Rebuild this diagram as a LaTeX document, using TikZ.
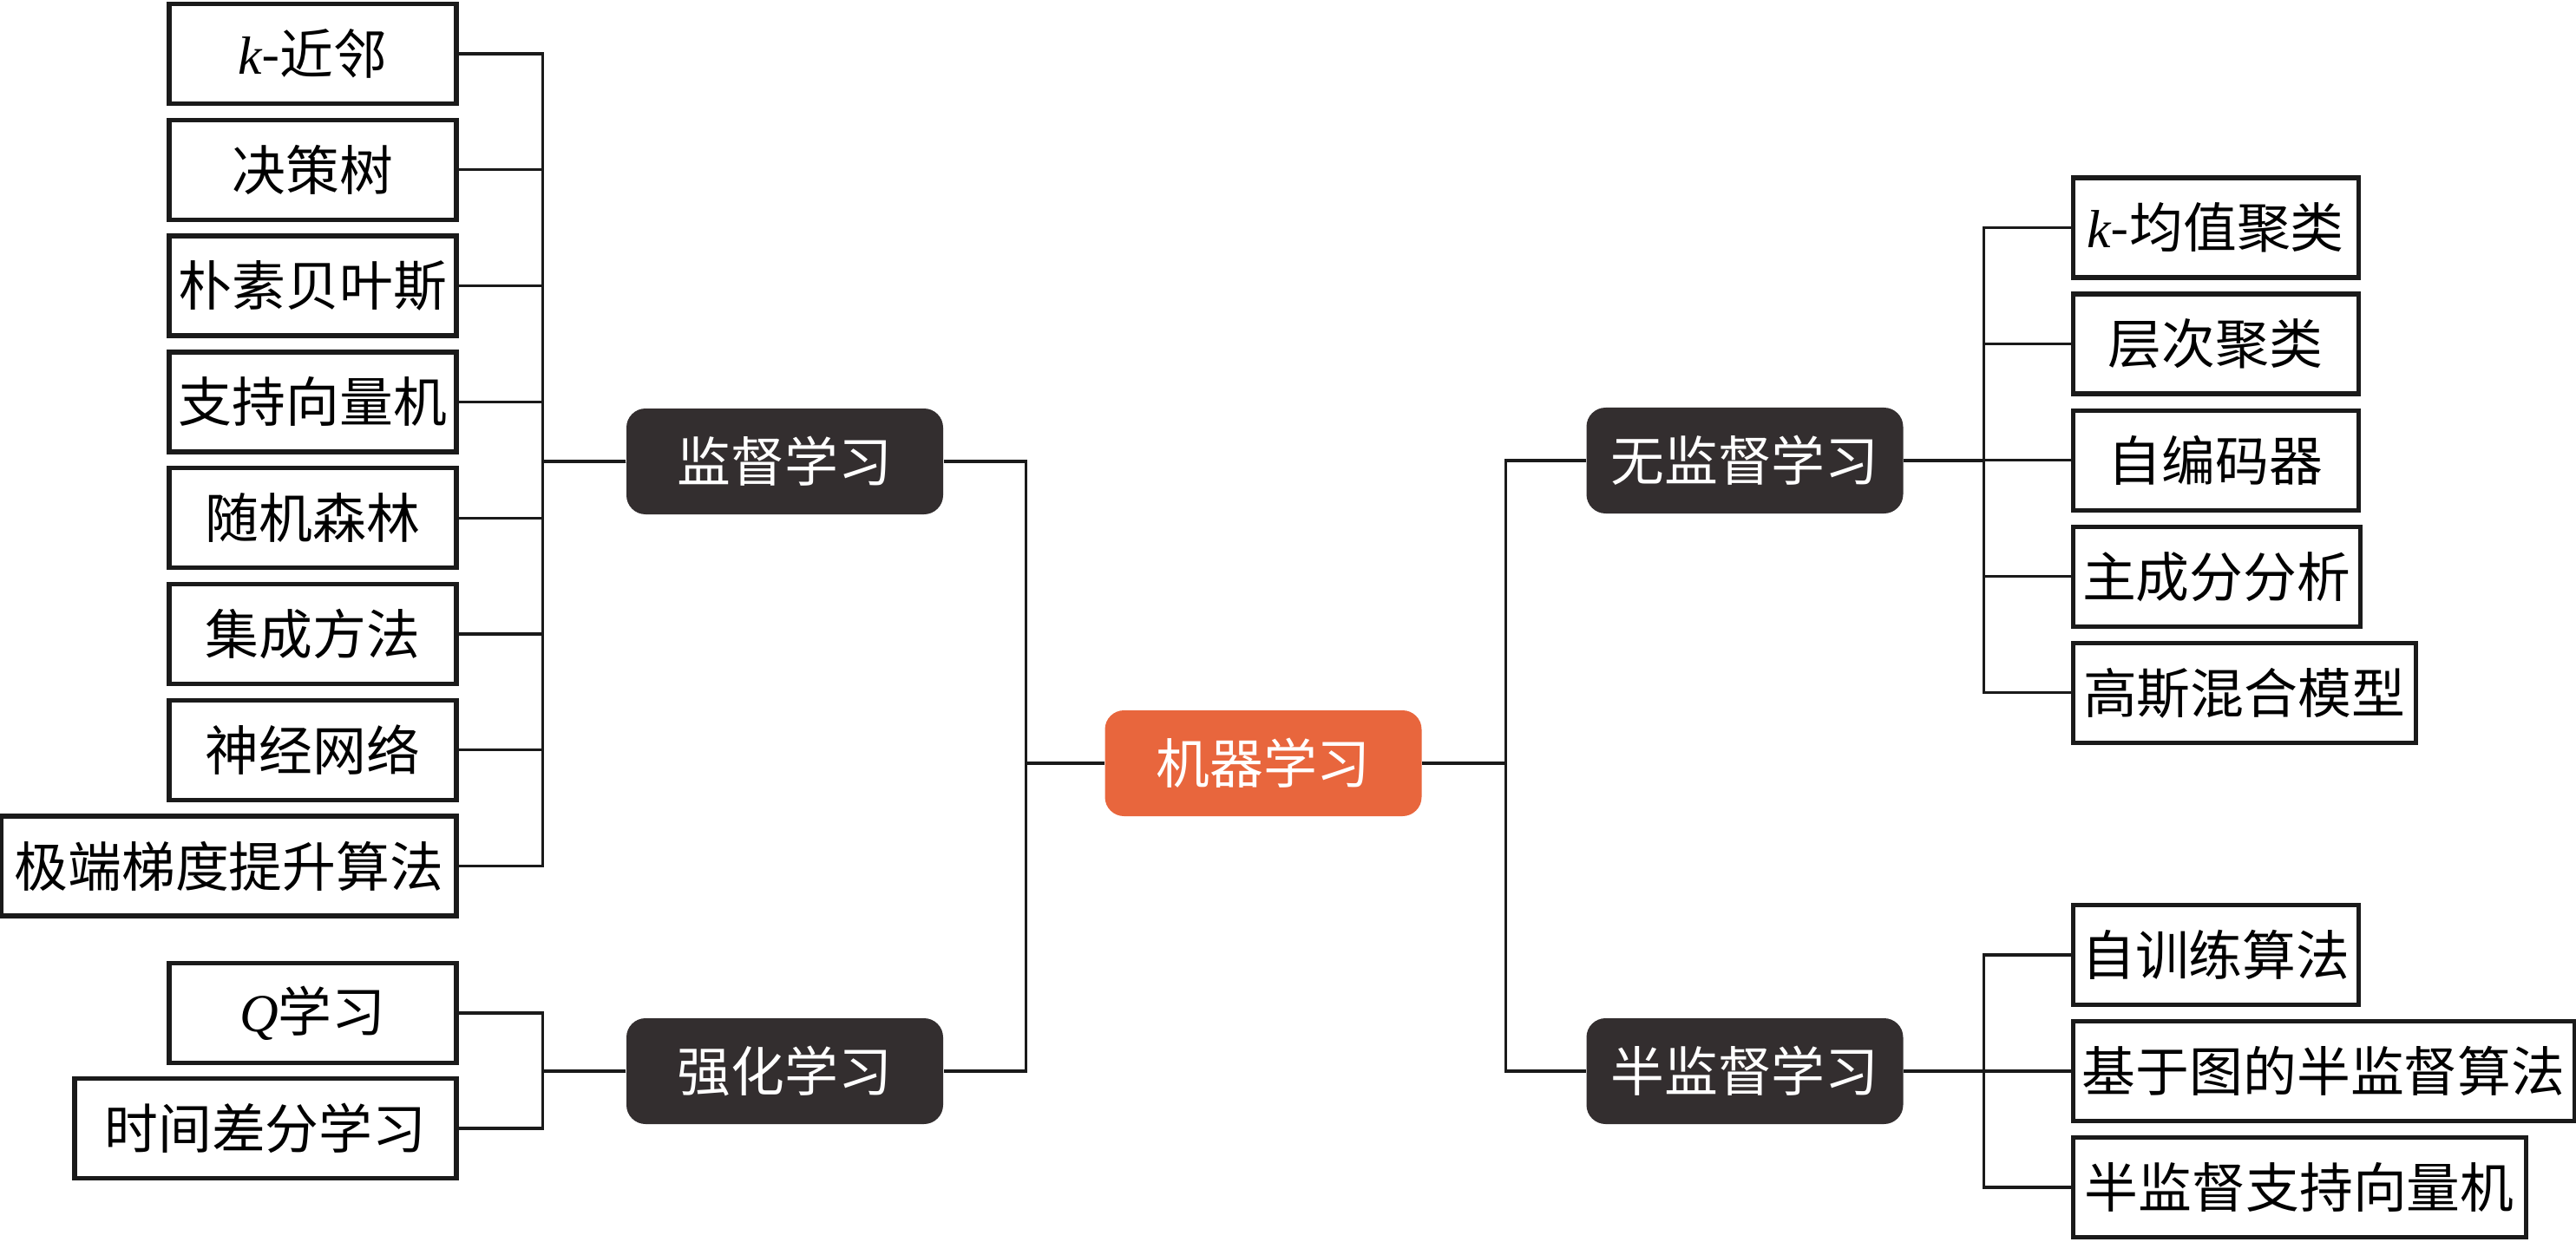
\documentclass[tikz,border=0pt]{standalone}
\usepackage{fontspec}
\setmainfont{Liberation Serif}
\newfontfamily\cjk{Noto Sans CJK SC}
\usepackage{tikz}
\usetikzlibrary{positioning}
\definecolor{rootOrange}{RGB}{232,102,61}
\definecolor{catDark}{RGB}{51,46,47}
\definecolor{lineInk}{RGB}{26,26,26}
\newcommand{\vsym}[1]{{\rmfamily\itshape #1}}

\begin{document}
\begin{tikzpicture}[
    font=\cjk\fontsize{17.6}{20}\selectfont,
    leaf/.style={draw=lineInk, line width=1.5pt, fill=white, minimum width=3.31cm,
                 minimum height=1.15cm, inner xsep=0.1cm},
    cat/.style={fill=catDark, text=white, rounded corners=0.22cm, minimum width=3.65cm,
                minimum height=1.22cm},
    root/.style={cat, fill=rootOrange},
    link/.style={draw=lineInk, line width=0.9pt}
  ]
        \useasboundingbox (0,0) rectangle (29.69,-14.32);
        % centre and the four branches
        \node[root] (ml) at (14.56,-8.80) {机器学习};
        \node[cat] (sup) at (9.045,-5.32) {监督学习};
        \node[cat] (rl) at (9.045,-12.35) {强化学习};
        \node[cat] (unsup) at (20.11,-5.31) {无监督学习};
        \node[cat] (semi) at (20.11,-12.35) {半监督学习};
        % supervised
        \foreach \t/\w [count=\i] in {\vsym{k}-近邻/3.31, 决策树/3.31, 朴素贝叶斯/3.31,
                                      支持向量机/3.31, 随机森林/3.31, 集成方法/3.31,
                                      神经网络/3.31, 极端梯度提升算法/5.24} {
          \node[leaf, anchor=east, minimum width=\w cm] (s\i) at (5.285,{-0.62-(\i-1)*1.338}) {\t};
          \draw[link] (sup.west) -- ++(-0.96,0) |- (s\i.east);
        }
        % reinforcement
        \node[leaf, anchor=east] (r1) at (5.285,-11.68) {\vsym{Q}学习};
        \node[leaf, anchor=east, minimum width=4.40cm] (r2) at (5.285,-13.01) {时间差分学习};
        \foreach \i in {1,2}
          \draw[link] (rl.west) -- ++(-0.96,0) |- (r\i.east);
        % unsupervised
        \foreach \t/\w [count=\i] in {\vsym{k}-均值聚类/3.29, 层次聚类/3.29, 自编码器/3.29,
                                      主成分分析/3.31, 高斯混合模型/3.95} {
          \node[leaf, anchor=west, minimum width=\w cm] (u\i) at (23.865,{-2.625-(\i-1)*1.341}) {\t};
          \draw[link] (unsup.east) -- ++(0.925,0) |- (u\i.west);
        }
        % semi-supervised
        \foreach \t/\w [count=\i] in {自训练算法/3.29, 基于图的半监督算法/5.78, 半监督支持向量机/5.22} {
          \node[leaf, anchor=west, minimum width=\w cm] (m\i) at (23.865,{-11.01-(\i-1)*1.34}) {\t};
          \draw[link] (semi.east) -- ++(0.925,0) |- (m\i.west);
        }
        % trunk
        \draw[link] (ml.west) -- ++(-0.905,0) |- (sup.east);
        \draw[link] (ml.west) -- ++(-0.905,0) |- (rl.east);
        \draw[link] (ml.east) -- ++(0.965,0) |- (unsup.west);
        \draw[link] (ml.east) -- ++(0.965,0) |- (semi.west);
      \end{tikzpicture}
\end{document}
